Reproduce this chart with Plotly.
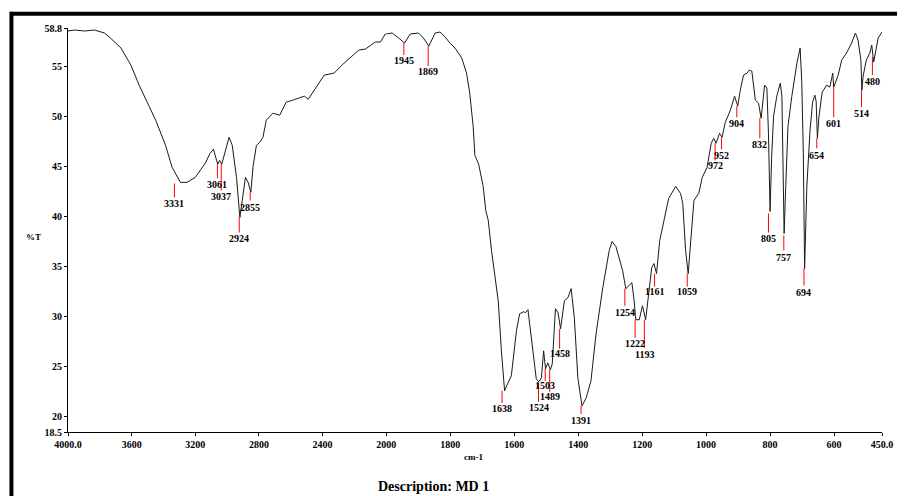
import plotly.graph_objects as go

# ---- spectrum, high-wavenumber section (4000-2000 cm-1, compressed scale)
wn_high = [4000, 3958, 3896, 3834, 3771, 3740, 3667, 3605, 3553, 3502, 3449, 3387, 3346,
           3293, 3252, 3200, 3138, 3107, 3086, 3059, 3047, 3034, 3013, 2988, 2968, 2941,
           2920, 2905, 2885, 2868, 2851, 2837, 2816, 2795, 2775, 2754, 2712, 2670, 2629,
           2588, 2515, 2490, 2432, 2390, 2328, 2265, 2172, 2131, 2069, 2037, 2006, 2000]
t_high = [58.5, 58.6, 58.5, 58.6, 58.3, 57.9, 56.8, 55.1, 53.1, 51.4, 49.6, 47.1, 44.9,
          43.4, 43.4, 43.9, 45.3, 46.3, 46.7, 45.2, 45.6, 45.2, 46.4, 47.9, 47.1, 43.9,
          39.9, 41.6, 43.9, 43.4, 42.4, 45.0, 47.1, 47.4, 47.9, 49.6, 50.3, 50.1, 51.4,
          51.6, 52.0, 51.7, 53.1, 54.1, 54.3, 55.3, 56.6, 56.7, 57.4, 57.4, 58.2, 58.2]

# ---- spectrum, low-wavenumber section (2000-450 cm-1, expanded scale)
wn_low = [2000, 1982, 1961, 1943, 1925, 1899, 1884, 1867, 1847, 1832, 1816, 1801, 1785,
          1764, 1749, 1739, 1728, 1723, 1711, 1697, 1689, 1681, 1671, 1650, 1640, 1630,
          1621, 1609, 1593, 1583, 1570, 1565, 1557, 1547, 1531, 1523, 1515, 1508, 1502,
          1495, 1487, 1481, 1471, 1463, 1455, 1443, 1432, 1422, 1412, 1401, 1388, 1375,
          1360, 1344, 1323, 1303, 1294, 1282, 1261, 1251, 1232, 1225, 1220, 1209, 1199,
          1189, 1180, 1170, 1163, 1155, 1145, 1132, 1117, 1095, 1080, 1073, 1069, 1064,
          1056, 1045, 1038, 1023, 1012, 997, 984, 976, 969, 958, 950, 940, 924, 911, 901,
          893, 883, 872, 865, 857, 846, 836, 828, 817, 810, 805, 800, 795, 789, 779, 768,
          763, 759, 756, 751, 744, 732, 716, 706, 701, 696, 692, 685, 675, 667, 660, 656,
          652, 647, 643, 637, 623, 613, 604, 601, 587, 576, 561, 545, 533, 525, 516, 513,
          509, 499, 488, 482, 476, 462, 454, 450]
t_low = [58.2, 58.3, 57.8, 57.3, 58.2, 58.3, 57.8, 57.0, 58.3, 58.4, 57.9, 57.3, 56.8,
         55.8, 54.3, 52.3, 48.9, 46.1, 45.2, 43.0, 40.6, 39.6, 36.6, 31.6, 26.6, 22.6,
         23.3, 24.1, 28.6, 30.3, 30.5, 30.4, 30.7, 27.9, 23.8, 23.5, 23.9, 26.6, 24.8,
         25.4, 24.7, 25.3, 30.8, 30.4, 28.8, 31.6, 31.9, 32.8, 29.9, 23.9, 21.1, 21.9,
         23.6, 28.3, 32.9, 36.6, 37.5, 37.0, 34.6, 32.8, 33.4, 31.6, 29.7, 29.7, 31.1,
         29.7, 31.9, 34.9, 35.3, 34.3, 37.6, 39.6, 41.8, 43.0, 42.3, 41.3, 39.6, 36.6,
         34.3, 38.3, 41.6, 42.3, 43.9, 44.9, 47.3, 47.8, 47.3, 48.3, 47.9, 49.4, 50.6, 52.0, 51.0,
         52.6, 54.1, 54.3, 54.6, 54.5, 51.6, 51.3, 49.8, 53.1, 52.8, 48.3, 40.5, 46.0, 50.0, 52.0, 53.3,
         52.0, 45.0, 38.3, 43.0, 49.0, 52.0, 55.3, 56.8, 53.6, 46.3, 34.8, 43.0, 48.6, 51.4, 52.1, 51.5,
         47.8, 50.0, 51.0, 52.4, 53.1, 52.9, 54.3, 52.9, 54.1, 55.6, 56.3, 57.3, 58.3, 57.6, 55.6, 52.6,
         54.0, 55.6, 56.3, 57.1, 55.4, 57.8, 58.2, 58.4]

# ---- peak labels
peak_wn = [3331, 3061, 3037, 2924, 2855, 1945, 1869, 1638, 1524, 1503, 1489, 1458, 1391,
           1254, 1222, 1193, 1161, 1059, 972, 952, 904, 832, 805, 757, 694, 654, 601, 514, 480]
peak_text = ["3331", "3061", "3037", "2924", "2855", "1945", "1869", "1638", "1524", "1503",
             "1489", "1458", "1391", "1254", "1222", "1193", "1161", "1059", "972", "952",
             "904", "832", "805", "757", "694", "654", "601", "514", "480"]
peak_t = [43.3, 45.2, 45.2, 39.9, 42.4, 57.3, 57.0, 22.6, 23.4, 24.8, 24.7, 28.8, 21.1,
          32.8, 29.7, 29.7, 34.3, 34.3, 47.3, 47.9, 51.0, 49.8, 40.3, 38.1, 34.8, 47.8,
          52.9, 52.6, 55.9]
peak_line_end = [41.9, 43.8, 42.6, 38.4, 41.6, 56.1, 55.0, 21.4, 21.5, 23.6, 22.5, 26.8, 20.3,
                 31.1, 27.9, 26.9, 33.0, 33.0, 45.6, 46.7, 49.9, 47.8, 38.4, 36.6, 33.1, 46.8,
                 49.9, 50.9, 54.1]
peak_label_t = [41.3, 43.2, 42.0, 37.8, 40.9, 55.6, 54.5, 20.8, 20.9, 23.1, 22.0, 26.3, 19.6,
                30.4, 27.3, 26.2, 32.5, 32.5, 45.1, 46.1, 49.3, 47.2, 37.8, 35.9, 32.4, 46.1,
                49.3, 50.3, 53.5]

# ---- axis ticks
x_hi_ticks = [4000, 3600, 3200, 2800, 2400, 2000]
x_hi_text = ["4000.0", "3600", "3200", "2800", "2400", "2000"]
x_lo_ticks = [1800, 1600, 1400, 1200, 1000, 800, 600, 450]
x_lo_text = ["1800", "1600", "1400", "1200", "1000", "800", "600", "450.0"]
y_ticks = [18.5, 20, 25, 30, 35, 40, 45, 50, 55, 58.8]
y_text = ["18.5", "20", "25", "30", "35", "40", "45", "50", "55", "58.8"]

SPLIT = 0.391
FONT = "Liberation Serif"
tickfont = dict(family=FONT, size=10, color="black", weight="bold")

fig = go.Figure()
fig.add_trace(go.Scatter(x=wn_high, y=t_high, mode="lines", xaxis="x", yaxis="y",
                         line=dict(color="#1a1a1a", width=1), hoverinfo="skip"))
fig.add_trace(go.Scatter(x=wn_low, y=t_low, mode="lines", xaxis="x2", yaxis="y",
                         line=dict(color="#1a1a1a", width=1), hoverinfo="skip"))

shapes = []
annotations = []
for w, txt, t0, t1, tl in zip(peak_wn, peak_text, peak_t, peak_line_end, peak_label_t):
    xr = "x" if w >= 2000 else "x2"
    shapes.append(dict(type="line", xref=xr, yref="y", x0=w, x1=w, y0=t0, y1=t1,
                       line=dict(color="#ff0000", width=1)))
    annotations.append(dict(x=w, y=tl, xref=xr, yref="y", text=txt, showarrow=False,
                            xanchor="center", yanchor="middle",
                            font=dict(family=FONT, size=10, color="black", weight="bold")))

# frame
shapes.append(dict(type="line", xref="paper", yref="paper", x0=-0.071, x1=1.03,
                   y0=1.035, y1=1.035, line=dict(color="black", width=4)))
shapes.append(dict(type="line", xref="paper", yref="paper", x0=-0.0695, x1=-0.0695,
                   y0=1.04, y1=-0.2, line=dict(color="black", width=4)))

annotations += [
    dict(x=-0.0426, y=0.483, xref="paper", yref="paper", text="%T", showarrow=False,
         xanchor="center", yanchor="middle",
         font=dict(family=FONT, size=9, color="black", weight="bold")),
    dict(x=0.498, y=-0.062, xref="paper", yref="paper", text="cm-1", showarrow=False,
         xanchor="center", yanchor="middle",
         font=dict(family=FONT, size=9, color="black", weight="bold")),
    dict(x=0.449, y=-0.136, xref="paper", yref="paper", text="Description: MD 1",
         showarrow=False, xanchor="center", yanchor="middle",
         font=dict(family=FONT, size=14, color="black", weight="bold")),
]

axis_common = dict(showgrid=False, zeroline=False, showline=True, linecolor="black",
                   linewidth=1, ticks="outside", ticklen=3, tickcolor="black",
                   tickwidth=1, tickfont=tickfont, anchor="y")

# the page body adds an 8px offset, so the figure is sized to fit the 905x496 window
fig.update_layout(
    width=897, height=488,
    margin=dict(l=60, r=16, t=20, b=64),
    paper_bgcolor="white", plot_bgcolor="white",
    showlegend=False,
    xaxis=dict(domain=[0, SPLIT], range=[4000, 2000], tickmode="array",
               tickvals=x_hi_ticks, ticktext=x_hi_text, **axis_common),
    xaxis2=dict(domain=[SPLIT, 1], range=[2000, 450], tickmode="array",
                tickvals=x_lo_ticks, ticktext=x_lo_text, **axis_common),
    yaxis=dict(range=[18.5, 58.8], tickmode="array", tickvals=y_ticks, ticktext=y_text,
               showgrid=False, zeroline=False, showline=True, linecolor="black",
               linewidth=1, ticks="outside", ticklen=3, tickcolor="black", tickwidth=1,
               tickfont=tickfont, anchor="x"),
    shapes=shapes,
    annotations=annotations,
)

fig.write_html("out.html")
